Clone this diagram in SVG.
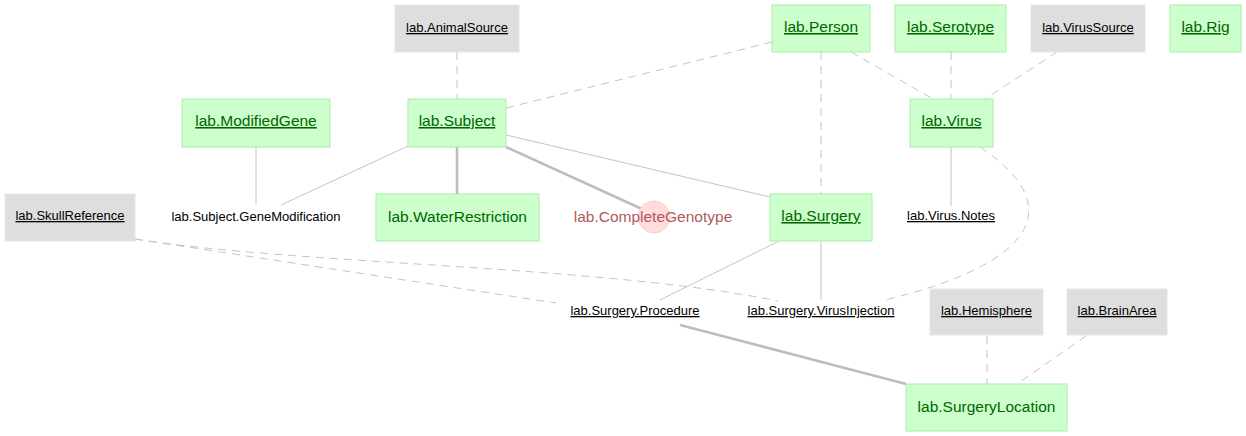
<svg xmlns="http://www.w3.org/2000/svg" width="1246" height="436" viewBox="0 0 1246 436">
<style>
.bg{fill:#ffffff}
.g rect{fill:#ccffcc;stroke:#a8f0a8;stroke-width:1}
.g text{fill:#006600;font-family:"Liberation Sans",Arial,sans-serif;font-size:15.5px;text-anchor:middle}
.m rect{fill:#dedede;stroke:#e6e6e6;stroke-width:1}
.m text{fill:#000000;font-family:"Liberation Sans",Arial,sans-serif;font-size:13px;text-anchor:middle}
.p text{fill:#000000;font-family:"Liberation Sans",Arial,sans-serif;font-size:13px;text-anchor:middle}
.u{text-decoration:underline}
.c circle{fill:#ffdddd;stroke:#ffcccc;stroke-width:1}
.c text{fill:#b05a5a;font-family:"Liberation Sans",Arial,sans-serif;font-size:15.5px;text-anchor:middle}
#connectors path,#connectors line{fill:none;stroke:#c4c4c4}
.d{stroke-dasharray:8,6;stroke-width:1}
.s{stroke-width:1}
.t{stroke-width:2.6;stroke:#bdbdbd !important}
</style>
<rect class="bg" x="0" y="0" width="1246" height="436"/>
<g id="connectors">
<line class="d" x1="457" y1="52" x2="457" y2="99"/>
<line class="d" x1="772" y1="42" x2="506" y2="108"/>
<line class="d" x1="821" y1="52" x2="821" y2="194"/>
<line class="d" x1="851" y1="52" x2="933" y2="99"/>
<line class="d" x1="951" y1="52" x2="951" y2="99"/>
<line class="d" x1="1057" y1="52" x2="985" y2="99"/>
<line class="s" x1="256" y1="147" x2="256" y2="204"/>
<line class="s" x1="408" y1="146" x2="281" y2="205"/>
<line class="t" x1="457" y1="147" x2="457" y2="194"/>
<line class="t" x1="506" y1="147" x2="642" y2="209"/>
<line class="s" x1="506" y1="135" x2="770" y2="197"/>
<line class="s" x1="951" y1="147" x2="951" y2="206"/>
<path class="d" d="M 980 147 C 1060 200, 1050 260, 885 300"/>
<line class="s" x1="779" y1="241" x2="660" y2="300"/>
<line class="s" x1="821" y1="241" x2="821" y2="300"/>
<path class="d" d="M 135 239 C 300 265, 600 265, 778 301"/>
<line class="d" x1="135" y1="239" x2="556" y2="303"/>
<line class="t" x1="680" y1="325" x2="906" y2="384"/>
<line class="d" x1="987" y1="336" x2="987" y2="384"/>
<line class="d" x1="1086" y1="336" x2="1017" y2="384"/>
</g>
<g id="n-animalsource" class="m"><rect x="395" y="5" width="124" height="47"/><text class="u" x="457" y="32">lab.AnimalSource</text></g>
<g id="n-person" class="g"><rect x="772" y="5" width="98" height="47"/><text class="u" x="821" y="32">lab.Person</text></g>
<g id="n-serotype" class="g"><rect x="895" y="5" width="111" height="47"/><text class="u" x="950.5" y="32">lab.Serotype</text></g>
<g id="n-virussource" class="m"><rect x="1031" y="5" width="114" height="47"/><text class="u" x="1088" y="32">lab.VirusSource</text></g>
<g id="n-rig" class="g"><rect x="1170" y="5" width="71" height="47"/><text class="u" x="1205.5" y="32">lab.Rig</text></g>
<g id="n-modifiedgene" class="g"><rect x="182" y="99" width="148" height="48"/><text class="u" x="256" y="126">lab.ModifiedGene</text></g>
<g id="n-subject" class="g"><rect x="408" y="99" width="98" height="48"/><text class="u" x="457" y="126">lab.Subject</text></g>
<g id="n-virus" class="g"><rect x="910" y="99" width="83" height="48"/><text class="u" x="951.5" y="126">lab.Virus</text></g>
<g id="n-skullreference" class="m"><rect x="5" y="194" width="130" height="47"/><text class="u" x="70" y="220">lab.SkullReference</text></g>
<g id="n-genemodification" class="p"><text x="256" y="221">lab.Subject.GeneModification</text></g>
<g id="n-waterrestriction" class="g"><rect x="376" y="194" width="163" height="47"/><text x="457.5" y="222">lab.WaterRestriction</text></g>
<g id="n-completegenotype" class="c"><circle cx="654" cy="217" r="16"/><text x="653" y="222">lab.CompleteGenotype</text></g>
<g id="n-surgery" class="g"><rect x="770" y="194" width="102" height="47"/><text class="u" x="821" y="221">lab.Surgery</text></g>
<g id="n-virusnotes" class="p"><text class="u" x="951" y="220">lab.Virus.Notes</text></g>
<g id="n-procedure" class="p"><text class="u" x="635" y="315">lab.Surgery.Procedure</text></g>
<g id="n-virusinjection" class="p"><text class="u" x="821" y="315">lab.Surgery.VirusInjection</text></g>
<g id="n-hemisphere" class="m"><rect x="930" y="289" width="113" height="46"/><text class="u" x="986.5" y="315">lab.Hemisphere</text></g>
<g id="n-brainarea" class="m"><rect x="1067" y="289" width="100" height="46"/><text class="u" x="1117" y="315">lab.BrainArea</text></g>
<g id="n-surgerylocation" class="g"><rect x="906" y="384" width="161" height="47"/><text x="986.5" y="412">lab.SurgeryLocation</text></g>
</svg>
